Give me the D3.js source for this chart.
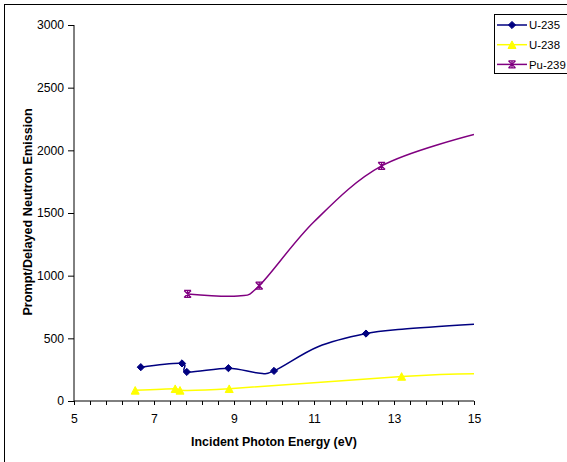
<!DOCTYPE html>
<html>
<head>
<meta charset="utf-8">
<script src="https://cdn.jsdelivr.net/npm/d3@7"></script>
<style>
  html, body { margin: 0; padding: 0; background: #fff; }
  svg { display: block; font-family: "Liberation Sans", Arial, sans-serif; }
</style>
</head>
<body>
<svg id="chart" width="567" height="462"></svg>
<script>
// ---- Data ----
const seriesNames = ["U-235", "U-238", "Pu-239"];
const seriesColors = ["#000080", "#FFFF00", "#800080"];

const u235X = [6.67, 7.70, 7.82, 8.86, 9.60, 10.00, 11.10, 12.30, 13.20, 15.00];
const u235Y = [270, 300, 232, 262, 224, 240, 433, 538, 573, 613];
const u235Shown = [1, 1, 1, 1, 0, 1, 0, 1, 0, 0];

const u238X = [6.53, 7.53, 7.65, 8.88, 13.19, 15.00];
const u238Y = [85, 98, 85, 98, 196, 218];
const u238Shown = [1, 1, 1, 1, 1, 0];

const pu239X = [7.84, 9.10, 9.63, 11.00, 12.69, 15.00];
const pu239Y = [854, 838, 920, 1430, 1876, 2127];
const pu239Shown = [1, 0, 1, 0, 1, 0];

const xTickLabels = [5, 7, 9, 11, 13, 15];
const xMinorStep = 0.4;
const yTickLabels = [0, 500, 1000, 1500, 2000, 2500, 3000];

const xTitle = "Incident Photon Energy (eV)";
const yTitle = "Prompt/Delayed Neutron Emission";

(function () {
// ---- Layout ----
const svg = d3.select("#chart");
const pL = 74, pR = 474, pT = 25, pB = 401;

const x = d3.scaleLinear().domain([5, 15]).range([pL, pR]);
const y = d3.scaleLinear().domain([0, 3000]).range([pB, pT]);

// outer chart border
svg.append("rect")
  .attr("x", 4.5).attr("y", 4.5)
  .attr("width", 700).attr("height", 600)
  .attr("fill", "none").attr("stroke", "#000").attr("stroke-width", 1);

// clip
svg.append("defs").append("clipPath").attr("id", "plotclip")
  .append("rect").attr("x", pL).attr("y", pT - 5)
  .attr("width", pR - pL).attr("height", pB - pT + 10);

// ---- Axes ----
const nMinor = Math.round((15 - 5) / xMinorStep);
const xTickVals = d3.range(0, nMinor + 1).map(i => 5 + i * xMinorStep);
const xAxis = d3.axisBottom(x)
  .tickValues(xTickVals)
  .tickSize(4)
  .tickPadding(9)
  .tickFormat(v => {
    const m = xTickLabels.find(t => Math.abs(t - v) < 1e-6);
    return m === undefined ? "" : d3.format("d")(m);
  });
const gx = svg.append("g").attr("transform", `translate(0,${pB})`).call(xAxis);

const yAxis = d3.axisLeft(y).tickValues(yTickLabels).tickSize(6).tickPadding(4)
  .tickFormat(d3.format("d"));
const gy = svg.append("g").attr("transform", `translate(${pL},0)`).call(yAxis);

[gx, gy].forEach(g => {
  g.select(".domain").attr("stroke", "#000").attr("stroke-width", 1);
  g.selectAll(".tick line").attr("stroke", "#000");
  g.selectAll(".tick text").attr("fill", "#000")
    .style("font-family", "Liberation Sans, Arial, sans-serif")
    .style("font-size", "12.2px");
});
gx.select(".domain").attr("d", `M${pL},0H${pR}`);
gy.select(".domain").attr("d", `M0,${pT}V${pB}`);

// axis titles
svg.append("text")
  .attr("x", (pL + pR) / 2).attr("y", 446)
  .attr("text-anchor", "middle")
  .style("font-size", "12.4px").style("font-weight", "bold")
  .text(xTitle);
svg.append("text")
  .attr("transform", `translate(32,212) rotate(-90)`)
  .attr("text-anchor", "middle")
  .style("font-size", "12.6px").style("font-weight", "bold")
  .text(yTitle);

// ---- Series ----
const line = d3.line()
  .x(d => x(d[0])).y(d => y(d[1]))
  .curve(d3.curveCatmullRom.alpha(0));

function markerPath(kind, cx, cy) {
  if (kind === 0) { // diamond
    const r = 3.6;
    return `M${cx},${cy - r}L${cx + r},${cy}L${cx},${cy + r}L${cx - r},${cy}Z`;
  }
  if (kind === 1) { // triangle
    const w = 4, h = 3.8;
    return `M${cx},${cy - h}L${cx + w},${cy + h}L${cx - w},${cy + h}Z`;
  }
  // star: X + vertical bar
  const r = 3.5;
  return `M${cx - r},${cy - r}L${cx + r},${cy + r}M${cx - r},${cy + r}L${cx + r},${cy - r}` +
         `M${cx - r},${cy - r}L${cx + r},${cy - r}M${cx - r},${cy + r}L${cx + r},${cy + r}` +
         `M${cx},${cy - r}L${cx},${cy + r}`;
}

const allSeries = [
  { xs: u235X, ys: u235Y, shown: u235Shown },
  { xs: u238X, ys: u238Y, shown: u238Shown },
  { xs: pu239X, ys: pu239Y, shown: pu239Shown }
];

const plot = svg.append("g").attr("clip-path", "url(#plotclip)");
[1, 0, 2].forEach(si => {
  const s = allSeries[si];
  const pts = s.xs.map((v, i) => [v, s.ys[i], s.shown[i]]);
  plot.append("path")
    .attr("d", line(pts))
    .attr("fill", "none")
    .attr("stroke", seriesColors[si])
    .attr("stroke-width", 1.5);
  plot.selectAll(null)
    .data(pts.filter(p => p[2]))
    .enter().append("path")
    .attr("d", p => markerPath(si, x(p[0]), y(p[1])))
    .attr("fill", si === 2 ? "none" : seriesColors[si])
    .attr("stroke", seriesColors[si])
    .attr("stroke-width", si === 2 ? 1.3 : 1);
});

// ---- Legend ----
const lg = svg.append("g");
lg.append("rect")
  .attr("x", 494.5).attr("y", 14.5)
  .attr("width", 120).attr("height", 59)
  .attr("fill", "#fff").attr("stroke", "#000").attr("stroke-width", 1);
seriesNames.forEach((name, i) => {
  const yy = 25 + i * 19.7;
  lg.append("line")
    .attr("x1", 497).attr("x2", 527).attr("y1", yy).attr("y2", yy)
    .attr("stroke", seriesColors[i]).attr("stroke-width", 1.5);
  lg.append("path")
    .attr("d", markerPath(i, 512, yy))
    .attr("fill", i === 2 ? "none" : seriesColors[i])
    .attr("stroke", seriesColors[i])
    .attr("stroke-width", i === 2 ? 1.3 : 1);
  lg.append("text")
    .attr("x", 529).attr("y", yy + 4.3)
    .style("font-size", "11.4px")
    .attr("fill", "#000")
    .text(name);
});
})();
</script>
</body>
</html>
